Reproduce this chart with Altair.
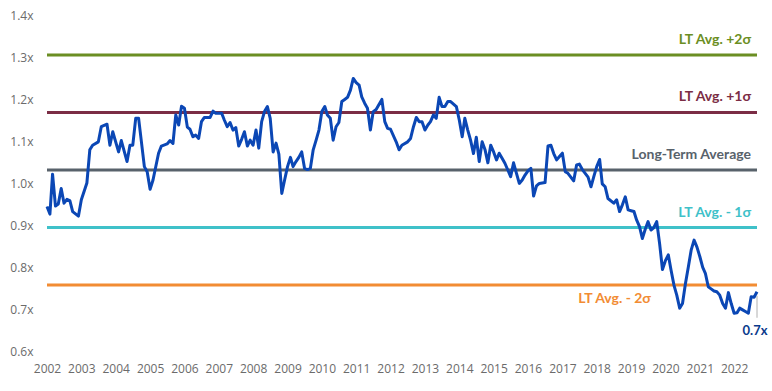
import altair as alt
import pandas as pd

# ---- data ----
dates = [
    "2002-01", "2002-02", "2002-03", "2002-04", "2002-05", "2002-06", "2002-07", "2002-08", "2002-09", "2002-10", "2002-12",
    "2003-01", "2003-03", "2003-04", "2003-05", "2003-07", "2003-08", "2003-10", "2003-11", "2003-12",
    "2004-02", "2004-03", "2004-05", "2004-06", "2004-07", "2004-08", "2004-09", "2004-11", "2004-12",
    "2005-01", "2005-02", "2005-04", "2005-05", "2005-07", "2005-08", "2005-09", "2005-10", "2005-11", "2005-12",
    "2006-01", "2006-02", "2006-03", "2006-04", "2006-05", "2006-06", "2006-07", "2006-08", "2006-10", "2006-11", "2006-12",
    "2007-02", "2007-03", "2007-04", "2007-05", "2007-06", "2007-07", "2007-08", "2007-09", "2007-10", "2007-11", "2007-12",
    "2008-01", "2008-02", "2008-03", "2008-04", "2008-05", "2008-06", "2008-07", "2008-08", "2008-09", "2008-10", "2008-11", "2008-12",
    "2009-01", "2009-02", "2009-03", "2009-04", "2009-05", "2009-06", "2009-07", "2009-08", "2009-09", "2009-10", "2009-11", "2009-12",
    "2010-01", "2010-02", "2010-03", "2010-04", "2010-05", "2010-06", "2010-07", "2010-08", "2010-09", "2010-10", "2010-11", "2010-12",
    "2011-01", "2011-02", "2011-03", "2011-04", "2011-05", "2011-06", "2011-07", "2011-08", "2011-10", "2011-11", "2011-12",
    "2012-01", "2012-03", "2012-04", "2012-05", "2012-07", "2012-08", "2012-09", "2012-10", "2012-11", "2012-12",
    "2013-01", "2013-02", "2013-03", "2013-04", "2013-05", "2013-06", "2013-07", "2013-08", "2013-09", "2013-10", "2013-12",
    "2014-01", "2014-02", "2014-03", "2014-04", "2014-05", "2014-06", "2014-07", "2014-08", "2014-09", "2014-10", "2014-11", "2014-12",
    "2015-01", "2015-02", "2015-03", "2015-04", "2015-05", "2015-06", "2015-07", "2015-08", "2015-09", "2015-10", "2015-11", "2015-12",
    "2016-01", "2016-02", "2016-03", "2016-04", "2016-05", "2016-07", "2016-08", "2016-09", "2016-10", "2016-11", "2016-12",
    "2017-01", "2017-02", "2017-03", "2017-05", "2017-06", "2017-07", "2017-08", "2017-10", "2017-11", "2017-12",
    "2018-01", "2018-02", "2018-03", "2018-04", "2018-05", "2018-07", "2018-08", "2018-09", "2018-10", "2018-11", "2018-12",
    "2019-01", "2019-02", "2019-03", "2019-04", "2019-05", "2019-06", "2019-07", "2019-08", "2019-09", "2019-10", "2019-11", "2019-12",
    "2020-01", "2020-02", "2020-03", "2020-04", "2020-05", "2020-06", "2020-07", "2020-08", "2020-09", "2020-10", "2020-11", "2020-12",
    "2021-01", "2021-02", "2021-03", "2021-04", "2021-05", "2021-06", "2021-07", "2021-08", "2021-09", "2021-10", "2021-11", "2021-12",
    "2022-01", "2022-02", "2022-03", "2022-04", "2022-05", "2022-06", "2022-07", "2022-08", "2022-09",
]
values = [
    0.944, 0.926, 1.021, 0.945, 0.950, 0.987, 0.952, 0.961, 0.958, 0.932, 0.921,
    0.960, 1.000, 1.079, 1.090, 1.098, 1.134, 1.140, 1.090, 1.122,
    1.074, 1.101, 1.051, 1.090, 1.090, 1.154, 1.154, 1.039, 1.027,
    0.985, 1.007, 1.071, 1.088, 1.093, 1.101, 1.094, 1.162, 1.138, 1.183,
    1.178, 1.133, 1.128, 1.110, 1.114, 1.106, 1.146, 1.156, 1.156, 1.171, 1.166,
    1.166, 1.150, 1.134, 1.144, 1.126, 1.132, 1.088, 1.104, 1.122, 1.088, 1.102,
    1.090, 1.126, 1.083, 1.146, 1.170, 1.182, 1.154, 1.074, 1.095, 1.069, 0.975, 1.007,
    1.039, 1.061, 1.039, 1.051, 1.061, 1.074, 1.035, 1.032, 1.035, 1.079, 1.102, 1.126,
    1.170, 1.182, 1.162, 1.154, 1.102, 1.134, 1.144, 1.194, 1.199, 1.204, 1.221, 1.249,
    1.239, 1.233, 1.205, 1.190, 1.178, 1.126, 1.170, 1.175, 1.199, 1.146, 1.130,
    1.128, 1.098, 1.079, 1.090, 1.098, 1.106, 1.134, 1.156, 1.146, 1.146,
    1.126, 1.138, 1.146, 1.162, 1.154, 1.204, 1.182, 1.182, 1.194, 1.194, 1.182,
    1.150, 1.110, 1.154, 1.126, 1.102, 1.070, 1.109, 1.051, 1.098, 1.080, 1.048, 1.090,
    1.074, 1.055, 1.071, 1.059, 1.047, 1.031, 1.015, 1.048, 1.023, 0.999, 1.007, 1.019,
    1.029, 1.035, 0.969, 0.993, 0.999, 1.001, 1.088, 1.090, 1.070, 1.055, 1.063,
    1.071, 1.027, 1.023, 1.005, 1.043, 1.045, 1.032, 1.014, 0.991, 1.015,
    1.039, 1.056, 0.998, 0.991, 0.963, 0.952, 0.960, 0.932, 0.948, 0.967, 0.936,
    0.934, 0.932, 0.912, 0.896, 0.868, 0.890, 0.908, 0.888, 0.894, 0.908, 0.855, 0.794,
    0.815, 0.829, 0.793, 0.757, 0.733, 0.702, 0.713, 0.760, 0.800, 0.840, 0.864, 0.848,
    0.825, 0.799, 0.785, 0.753, 0.748, 0.743, 0.741, 0.733, 0.713, 0.702, 0.739, 0.713,
    0.690, 0.691, 0.702, 0.698, 0.694, 0.690, 0.729, 0.728, 0.741,
]

band_labels = ["LT Avg. +2σ", "LT Avg. +1σ", "Long-Term Average", "LT Avg. - 1σ", "LT Avg. - 2σ"]
band_values = [1.305, 1.168, 1.031, 0.894, 0.757]
band_colors = ["#6b8e23", "#7b2d45", "#58626b", "#3fc1c9", "#f28c33"]
band_label_dates = ["2022-09", "2022-09", "2022-09", "2022-09", "2019-08"]
band_label_side = ["above", "above", "above", "above", "below"]

end_label = "0.7x"
year_ticks = list(range(2002, 2023))
y_ticks = [0.6, 0.7, 0.8, 0.9, 1.0, 1.1, 1.2, 1.3, 1.4]

# ---- tables ----
series = pd.DataFrame({"date": dates, "value": values})
bands = pd.DataFrame({
    "label": band_labels, "value": band_values, "color": band_colors,
    "ldate": band_label_dates, "side": band_label_side,
})
last = series.tail(1).assign(label=end_label)

x_scale = alt.Scale(type="utc",
                    domain=[alt.DateTime(year=2002, month=1, date=1, utc=True),
                            alt.DateTime(year=2022, month=9, date=1, utc=True)])
y_scale = alt.Scale(domain=[0.6, 1.4], nice=False, zero=False)

x_axis = alt.Axis(values=[alt.DateTime(year=y, month=1, date=1, utc=True) for y in year_ticks],
                  tickCount={"interval": "year", "step": 1},
                  format="%Y", title=None, grid=False, domain=False, ticks=False,
                  labelOverlap=False, labelFont="Open Sans", labelFontSize=12,
                  labelColor="#6b6b6b", labelPadding=12, labelFlush=False)
y_axis = alt.Axis(values=y_ticks,
                  labelExpr="format(datum.value, '.1f') + 'x'",
                  title=None, grid=False, domain=False, ticks=False,
                  labelOverlap=False, labelFont="Open Sans", labelFontSize=12,
                  labelColor="#6b6b6b", labelPadding=14)

color_scale = alt.Scale(domain=band_labels, range=band_colors)


def X(field):
    return alt.X(field, scale=x_scale, axis=x_axis)


def Y(field):
    return alt.Y(field, scale=y_scale, axis=y_axis)


rules = alt.Chart(bands).mark_rule(strokeWidth=3).encode(
    y=Y("value:Q"),
    color=alt.Color("label:N", scale=color_scale, legend=None),
)

label_font = dict(font="Lato", fontWeight="bold", fontSize=14)

labels_above = alt.Chart(bands).transform_filter("datum.side == 'above'").mark_text(
    align="right", baseline="middle", dx=-6, dy=-15, **label_font
).encode(
    x=X("ldate:T"),
    y=Y("value:Q"),
    text="label:N",
    color=alt.Color("label:N", scale=color_scale, legend=None),
)
labels_below = alt.Chart(bands).transform_filter("datum.side == 'below'").mark_text(
    align="right", baseline="middle", dx=0, dy=14, **label_font
).encode(
    x=X("ldate:T"),
    y=Y("value:Q"),
    text="label:N",
    color=alt.Color("label:N", scale=color_scale, legend=None),
)

line = alt.Chart(series).mark_line(color="#0b47b5", strokeWidth=3, strokeJoin="round").encode(
    x=X("date:T"),
    y=Y("value:Q"),
)

leader = alt.Chart(last).mark_rule(color="#b0b0b0", strokeWidth=1, yOffset=4, y2Offset=26).encode(
    x=X("date:T"),
    y=Y("value:Q"),
    y2="value:Q",
)
end_text = alt.Chart(last).mark_text(
    align="center", baseline="middle", dx=-2, dy=39, color="#0a3a8c",
    font="Lato", fontWeight="bold", fontSize=13,
).encode(
    x=X("date:T"),
    y=Y("value:Q"),
    text="label:N",
)

chart = alt.layer(rules, line, labels_above, labels_below, leader, end_text).properties(
    width=710, height=336,
    autosize=alt.AutoSizeParams(type="none"),
    padding={"left": 47, "top": 15, "right": 15, "bottom": 40},
    background="white",
).configure_view(stroke=None)

chart.save("out.html", embed_options={"renderer": "svg", "actions": False})
